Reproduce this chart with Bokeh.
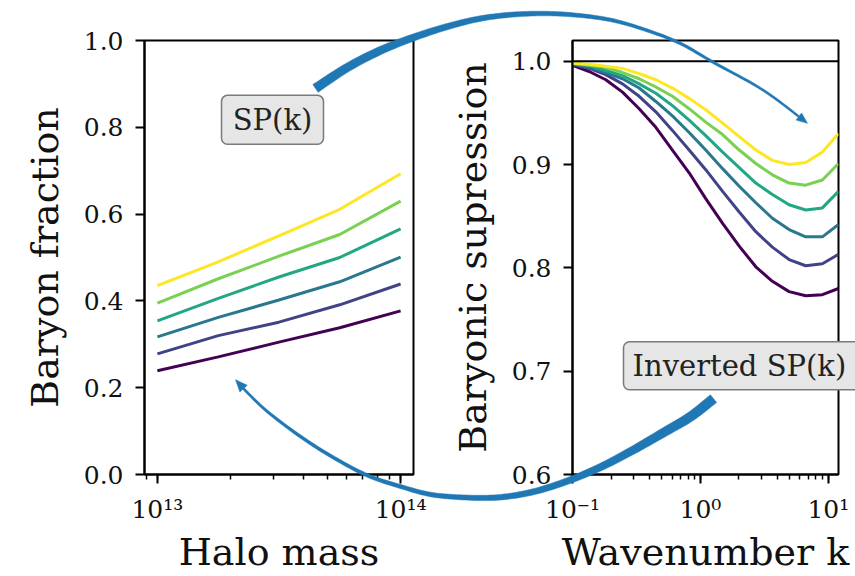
import numpy as np
from bokeh.plotting import figure
from bokeh.layouts import row
from bokeh.models import Range1d, FixedTicker, CustomJSTickFormatter, Span, LinearScale
from bokeh.embed import file_html
from bokeh.resources import INLINE
from bokeh.core.properties import value

# ---------------- data ----------------
halo_mass = [1.0e13, 1.78e13, 3.16e13, 5.62e13, 1.0e14]
fb_1 = [0.239, 0.271, 0.305, 0.338, 0.377]
fb_2 = [0.278, 0.320, 0.351, 0.391, 0.439]
fb_3 = [0.317, 0.362, 0.402, 0.444, 0.501]
fb_4 = [0.354, 0.406, 0.455, 0.500, 0.566]
fb_5 = [0.395, 0.451, 0.503, 0.553, 0.630]
fb_6 = [0.435, 0.490, 0.550, 0.611, 0.693]

wavenumber = [0.1, 0.135, 0.182, 0.246, 0.332, 0.448, 0.604, 0.816, 1.10,
              1.49, 2.01, 2.71, 3.65, 4.93, 6.65, 8.98, 12.0]
supp_1 = [0.996, 0.990, 0.982, 0.970, 0.954, 0.936, 0.914, 0.892, 0.867,
          0.843, 0.821, 0.801, 0.787, 0.777, 0.773, 0.774, 0.780]
supp_2 = [0.997, 0.993, 0.987, 0.978, 0.966, 0.951, 0.933, 0.914, 0.895,
          0.874, 0.854, 0.835, 0.820, 0.808, 0.802, 0.804, 0.813]
supp_3 = [0.997, 0.994, 0.989, 0.983, 0.974, 0.961, 0.947, 0.931, 0.914,
          0.896, 0.879, 0.863, 0.848, 0.837, 0.830, 0.830, 0.842]
supp_4 = [0.998, 0.996, 0.991, 0.986, 0.978, 0.969, 0.957, 0.943, 0.928,
          0.912, 0.897, 0.882, 0.871, 0.861, 0.856, 0.858, 0.874]
supp_5 = [0.998, 0.996, 0.994, 0.989, 0.983, 0.975, 0.966, 0.954, 0.941,
          0.929, 0.914, 0.901, 0.890, 0.882, 0.880, 0.885, 0.901]
supp_6 = [0.998, 0.997, 0.995, 0.993, 0.988, 0.982, 0.974, 0.964, 0.953,
          0.940, 0.927, 0.914, 0.904, 0.900, 0.902, 0.912, 0.930]

colors = ['#440154', '#404387', '#29788E', '#22A784', '#79D151', '#FDE724']

left_yticks = [0.0, 0.2, 0.4, 0.6, 0.8, 1.0]
right_yticks = [0.6, 0.7, 0.8, 0.9, 1.0]
mass_ticks = [1e13, 1e14]
k_ticks = [0.1, 1.0, 10.0]

FONT = "DejaVu Serif"
AXIS_FONT = "DejaVu Serif, serif"
BLUE = "#1f77b4"

# canvas-pixel geometry of the two frames
W1, W2, H = 427, 428, 576
L_FRAME = (144, 413)
R_FRAME = (572, 838)
TOP, BOT = 40, 475


def style(p):
    p.outline_line_color = "black"
    p.outline_line_width = 2
    p.outline_line_alpha = 1
    p.xgrid.visible = False
    p.ygrid.visible = False
    p.background_fill_color = "white"
    p.border_fill_color = "white"
    for ax in (p.xaxis[0], p.yaxis[0]):
        ax.axis_line_color = "black"
        ax.axis_line_width = 2
        ax.major_tick_line_color = "black"
        ax.major_tick_line_width = 2
        ax.major_tick_out = 9
        ax.major_tick_in = 0
        ax.minor_tick_line_color = "black"
        ax.minor_tick_line_width = 1.5
        ax.minor_tick_out = 5
        ax.minor_tick_in = 0
        ax.major_label_text_font = AXIS_FONT
        ax.major_label_text_font_size = "25px"
        ax.major_label_text_color = "#111111"
        ax.axis_label_text_font = AXIS_FONT
        ax.axis_label_text_font_size = "38px"
        ax.axis_label_text_font_style = "normal"
        ax.axis_label_text_color = "#111111"
    p.yaxis[0].minor_tick_line_color = None
    p.yaxis[0].major_label_standoff = 12
    p.yaxis[0].axis_label_standoff = 14
    p.xaxis[0].major_label_standoff = 11
    p.xaxis[0].axis_label_standoff = 3
    p.yaxis[0].formatter = CustomJSTickFormatter(code="return tick.toFixed(1);")
    p.xaxis[0].formatter = CustomJSTickFormatter(code="""
        const sup = {'-':'\u207b','0':'\u2070','1':'\u00b9','2':'\u00b2','3':'\u00b3',
                     '4':'\u2074','5':'\u2075','6':'\u2076','7':'\u2077','8':'\u2078','9':'\u2079'};
        const e = Math.round(Math.log10(tick));
        return '10' + String(e).split('').map(c => sup[c]).join('');
    """)


def minor_decade(lo, hi):
    out = []
    for e in range(lo, hi + 1):
        for m in range(1, 10):
            out.append(m * 10.0 ** e)
    return out


# ---------------- left panel ----------------
p1 = figure(width=W1, height=H, x_axis_type="log",
            x_range=Range1d(10 ** 12.947, 10 ** 14.053), y_range=Range1d(0, 1),
            output_backend="svg", toolbar_location=None,
            min_border_left=L_FRAME[0], min_border_right=W1 - L_FRAME[1],
            min_border_top=TOP, min_border_bottom=H - BOT,
            x_axis_label="Halo mass", y_axis_label="Baryon fraction")
p1.extra_x_ranges = {"px": Range1d(L_FRAME[0], L_FRAME[1])}
p1.extra_y_ranges = {"py": Range1d(BOT, TOP)}
p1.extra_x_scales = {"px": LinearScale()}
p1.extra_y_scales = {"py": LinearScale()}
style(p1)
p1.xaxis[0].ticker = FixedTicker(ticks=mass_ticks, minor_ticks=minor_decade(12, 14))
p1.yaxis[0].ticker = FixedTicker(ticks=left_yticks)

for fb, c in zip([fb_1, fb_2, fb_3, fb_4, fb_5, fb_6], colors):
    p1.line(halo_mass, fb, line_color=c, line_width=3)

# ---------------- right panel ----------------
p2 = figure(width=W2, height=H, x_axis_type="log",
            x_range=Range1d(0.1, 12.0), y_range=Range1d(0.6, 1.02),
            output_backend="svg", toolbar_location=None,
            min_border_left=R_FRAME[0] - W1, min_border_right=W1 + W2 - R_FRAME[1],
            min_border_top=TOP, min_border_bottom=H - BOT,
            x_axis_label="Wavenumber k", y_axis_label="Baryonic supression")
p2.extra_x_ranges = {"px": Range1d(R_FRAME[0], R_FRAME[1])}
p2.extra_y_ranges = {"py": Range1d(BOT, TOP)}
p2.extra_x_scales = {"px": LinearScale()}
p2.extra_y_scales = {"py": LinearScale()}
style(p2)
p2.xaxis[0].ticker = FixedTicker(ticks=k_ticks, minor_ticks=minor_decade(-1, 1))
p2.yaxis[0].ticker = FixedTicker(ticks=right_yticks)

p2.add_layout(Span(location=1.0, dimension="width", line_color="black", line_width=2))
for s, c in zip([supp_1, supp_2, supp_3, supp_4, supp_5, supp_6], colors):
    p2.line(wavenumber, s, line_color=c, line_width=3)


# ---------------- decorative arrows (canvas pixels) ----------------
def catmull(pts, n=10):
    P = np.asarray(pts, float)
    P = np.vstack([P[0], P, P[-1]])
    out = []
    for i in range(1, len(P) - 2):
        p0, p1_, p2_, p3 = P[i - 1], P[i], P[i + 1], P[i + 2]
        for t in np.linspace(0, 1, n, endpoint=False):
            out.append(0.5 * (2 * p1_ + (-p0 + p2_) * t
                              + (2 * p0 - 5 * p1_ + 4 * p2_ - p3) * t * t
                              + (-p0 + 3 * p1_ - 3 * p2_ + p3) * t ** 3))
    out.append(P[-2])
    return np.array(out)


def arrow(center, widths, head_len, head_w):
    c = catmull(center)
    w = np.interp(np.linspace(0, len(widths) - 1, len(c)), np.arange(len(widths)), widths)
    tip = c[-1]
    d = np.hypot(*(c - tip).T)
    idx = np.where(d >= head_len)[0][-1]
    u = tip - c[idx]
    u = u / np.hypot(*u)
    base = tip - u * head_len
    shaft = np.vstack([c[:idx + 1], base])
    ws = np.append(w[:idx + 1], w[idx])
    tg = np.gradient(shaft, axis=0)
    tg = tg / np.hypot(tg[:, 0], tg[:, 1])[:, None]
    nrm = np.column_stack([-tg[:, 1], tg[:, 0]])
    left = shaft + nrm * ws[:, None] / 2
    right = shaft - nrm * ws[:, None] / 2
    poly = np.vstack([left, right[::-1]])
    n_end = np.array([-u[1], u[0]])
    head = np.array([tip, base + n_end * head_w / 2, base - n_end * head_w / 2])
    return poly, head


top_center = [(315, 88), (347, 67), (380, 50), (413, 37), (447, 26), (480, 18),
              (513, 14), (547, 13), (580, 15), (613, 20), (647, 30), (680, 43),
              (713, 62), (763, 90), (807, 123)]
top_width = [9.5, 8.5, 8, 7, 6.2, 5.5, 5, 4.5, 4, 3.5, 3, 2.8, 2.5, 2.2, 2]
bot_center = [(713, 399), (690, 417), (663, 433), (630, 452), (597, 469), (563, 483),
              (530, 493), (497, 498), (463, 498), (430, 495), (400, 487), (367, 476),
              (333, 458), (300, 437), (267, 412), (247, 393), (235, 380)]
bot_width = [10, 9.5, 9, 8, 7.2, 6.5, 6, 5.5, 5, 4.5, 4, 3.5, 3.2, 3, 2.6, 2.3, 2]

arrows = [arrow(top_center, top_width, 11, 9), arrow(bot_center, bot_width, 12, 10)]

for p in (p1, p2):
    for poly, head in arrows:
        p.patch(poly[:, 0], poly[:, 1], fill_color=BLUE, line_color=BLUE, line_width=0.5,
                x_range_name="px", y_range_name="py", level="overlay")
        p.patch(head[:, 0], head[:, 1], fill_color=BLUE, line_color=BLUE, line_width=0.5,
                x_range_name="px", y_range_name="py", level="overlay")

# ---------------- text boxes ----------------
p1.quad(left=[221], right=[323], top=[95], bottom=[144], fill_color="#e6e6e6",
        line_color="#7a7a7a", line_width=1.5, border_radius=6,
        x_range_name="px", y_range_name="py", level="overlay")
p1.text(x=[272], y=[120], text=["SP(k)"], text_font=value(FONT), text_font_size="29px",
        text_color="#222222", text_align="center", text_baseline="middle",
        x_range_name="px", y_range_name="py", level="overlay")

p2.quad(left=[623], right=[880], top=[342], bottom=[390], fill_color="#e6e6e6",
        line_color="#7a7a7a", line_width=1.5, border_radius=6,
        x_range_name="px", y_range_name="py", level="overlay")
p2.text(x=[632], y=[366], text=["Inverted SP(k)"], text_font=value(FONT), text_font_size="29px",
        text_color="#222222", text_align="left", text_baseline="middle",
        x_range_name="px", y_range_name="py", level="overlay")

layout = row(p1, p2)
open("out.html", "w").write(file_html(layout, INLINE))
